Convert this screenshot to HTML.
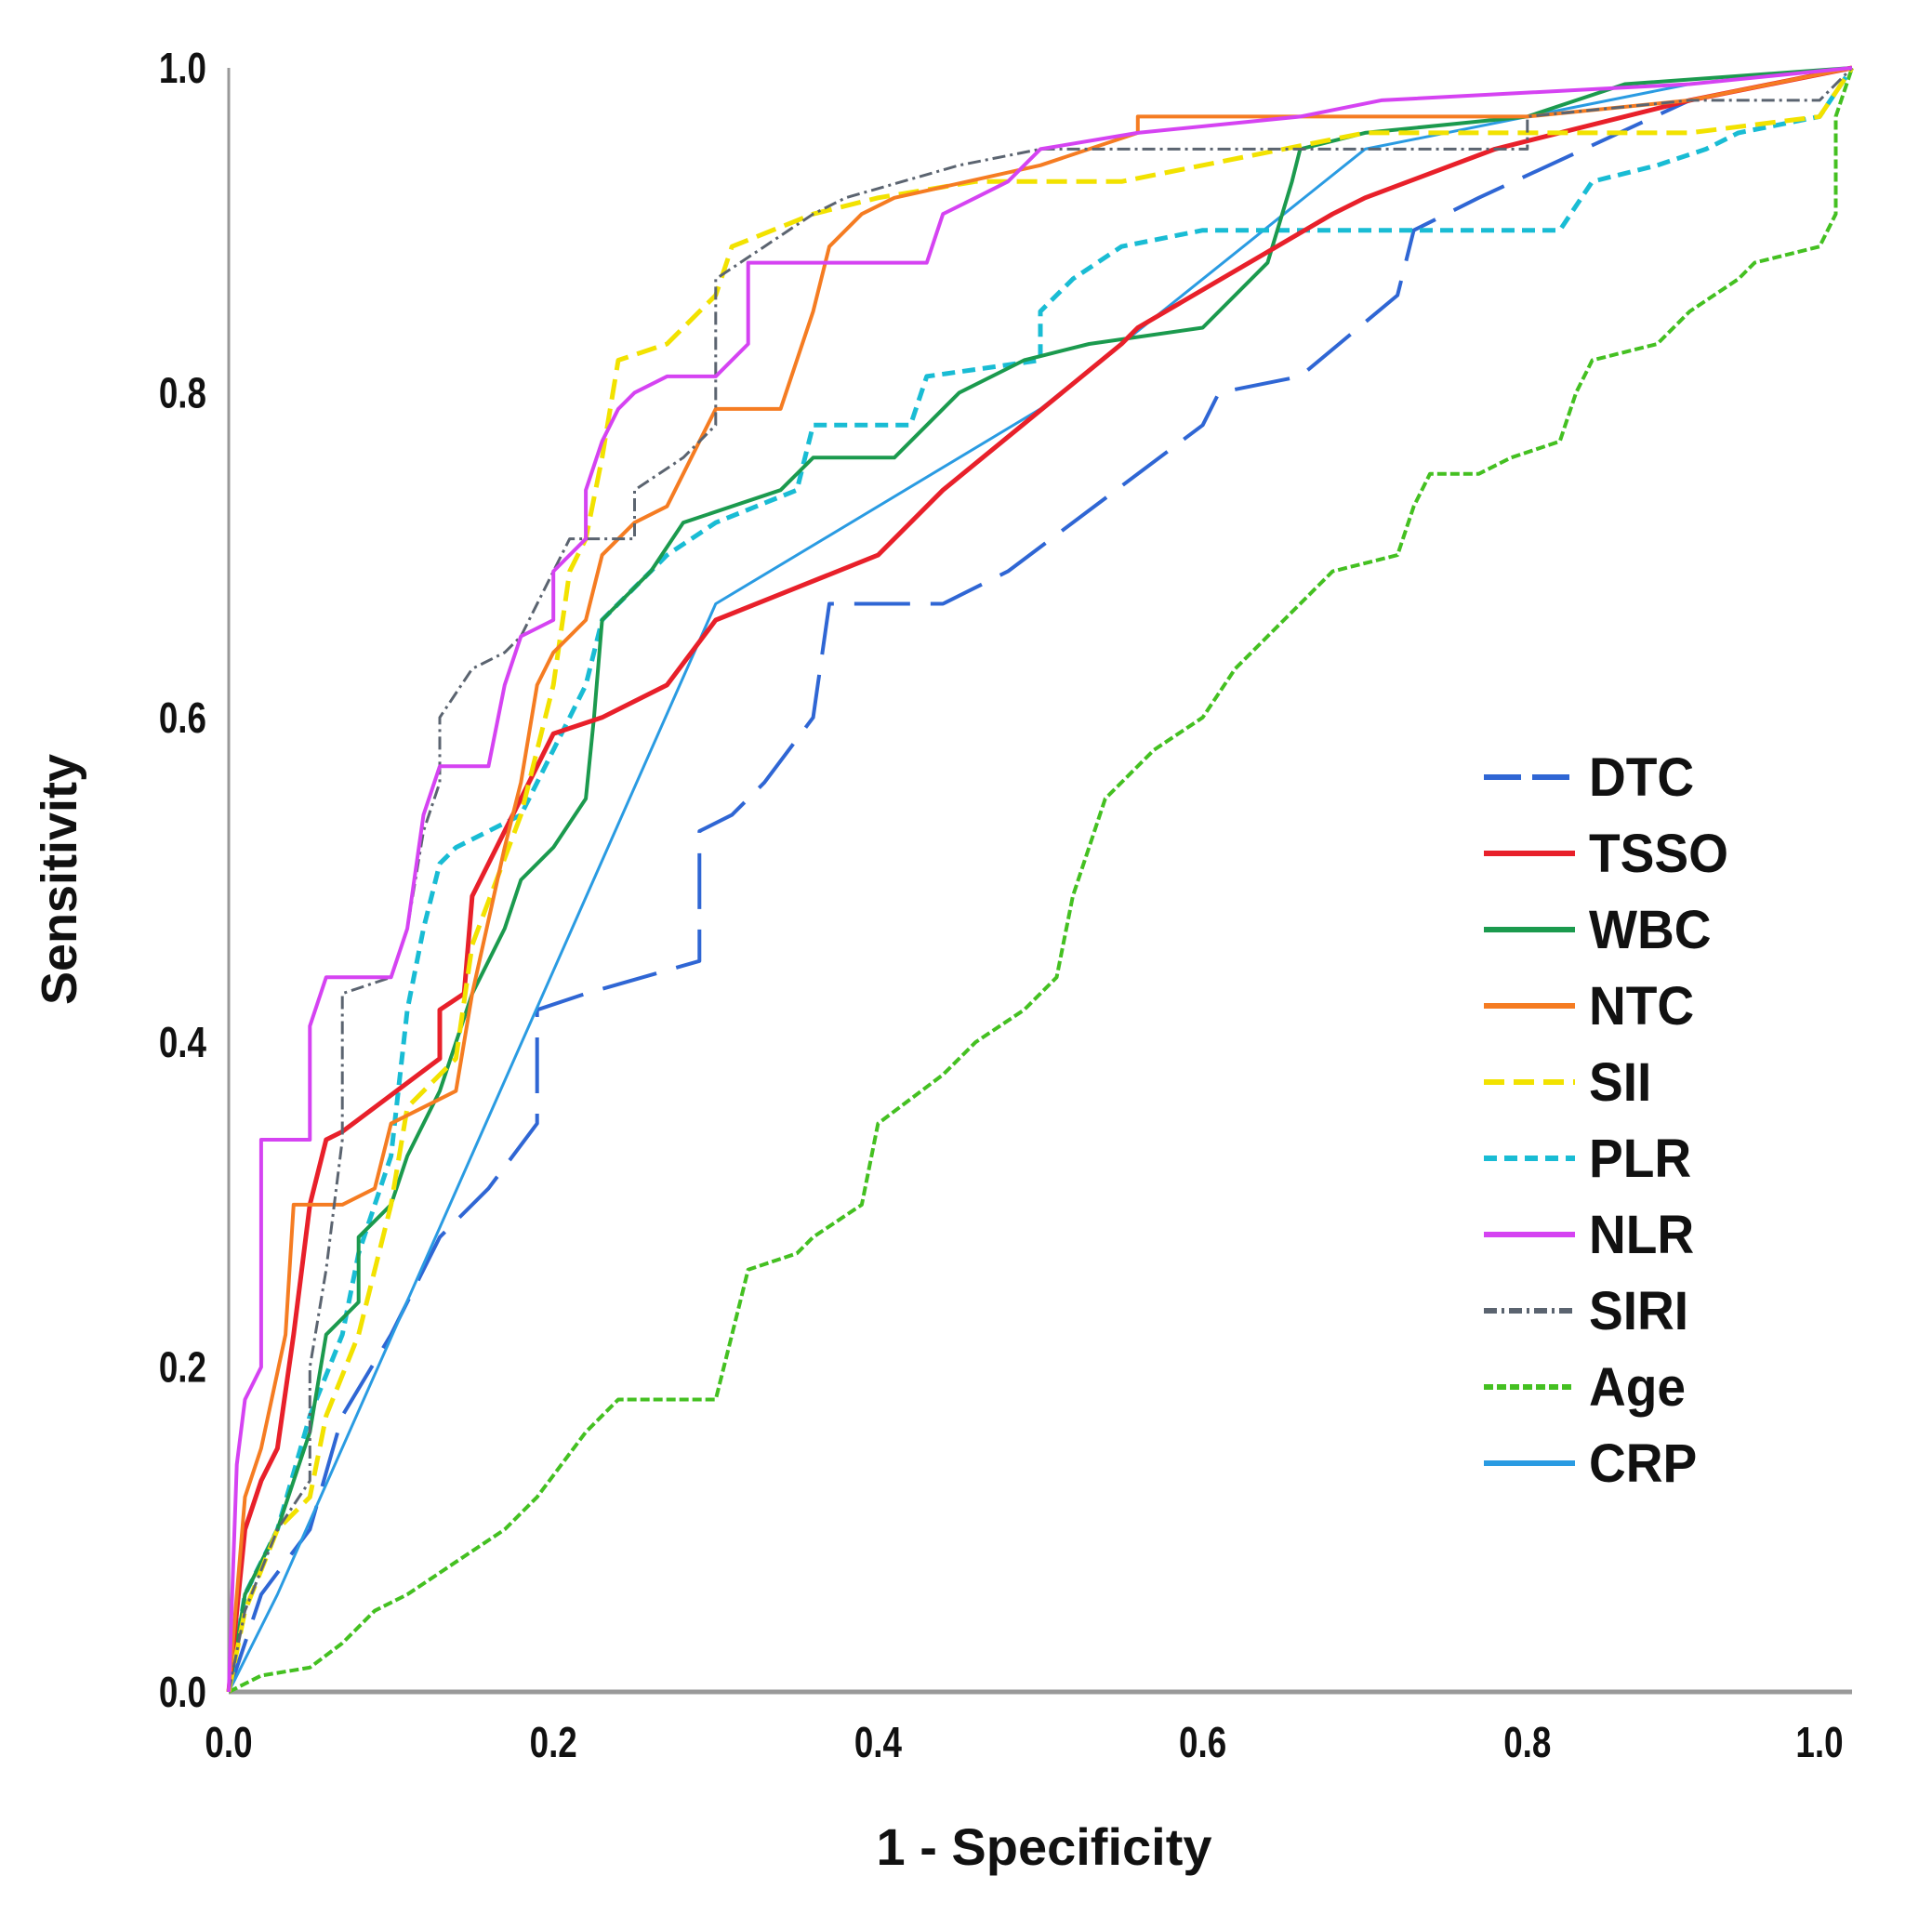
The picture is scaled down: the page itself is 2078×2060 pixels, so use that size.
<!DOCTYPE html>
<html><head><meta charset="utf-8"><style>
html,body{margin:0;padding:0;background:#fff;}
svg{display:block;}
text{font-family:"Liberation Sans",sans-serif;font-weight:bold;fill:#111;}
</style></head><body>
<svg id="chart" width="2078" height="2060" viewBox="0 0 2078 2060">
<g id="axes"></g>
<g id="curves"></g>
<g id="legend"></g>
<text x="82" y="946" transform="rotate(-90 82 946)" text-anchor="middle" font-size="54">Sensitivity</text>
<text x="1123" y="2006" text-anchor="middle" font-size="56">1 - Specificity</text>
</svg>
<script>
const ticks=[0,0.2,0.4,0.6,0.8,1.0];
const tickLabels=["0.0","0.2","0.4","0.6","0.8","1.0"];
const seriesNames=["DTC","TSSO","WBC","NTC","SII","PLR","NLR","SIRI","Age","CRP"];
const DTC=[[0,0],[0.02,0.06],[0.05,0.1],[0.07,0.17],[0.1,0.22],[0.13,0.28],[0.16,0.31],[0.19,0.35],[0.19,0.42],[0.22,0.43],[0.29,0.45],[0.29,0.53],[0.31,0.54],[0.33,0.56],[0.36,0.6],[0.37,0.67],[0.44,0.67],[0.48,0.69],[0.6,0.78],[0.61,0.8],[0.66,0.81],[0.72,0.86],[0.73,0.9],[0.77,0.92],[0.9,0.98],[1,1]];
const TSSO=[[0,0],[0.01,0.1],[0.02,0.13],[0.03,0.15],[0.04,0.22],[0.05,0.3],[0.06,0.34],[0.07,0.345],[0.13,0.39],[0.13,0.42],[0.145,0.43],[0.15,0.49],[0.17,0.53],[0.19,0.57],[0.2,0.59],[0.23,0.6],[0.27,0.62],[0.3,0.66],[0.4,0.7],[0.44,0.74],[0.55,0.83],[0.56,0.84],[0.68,0.91],[0.7,0.92],[0.78,0.95],[0.9,0.98],[1,1]];
const WBC=[[0,0],[0.01,0.06],[0.03,0.1],[0.05,0.16],[0.06,0.22],[0.08,0.24],[0.08,0.28],[0.1,0.3],[0.11,0.33],[0.13,0.37],[0.15,0.43],[0.17,0.47],[0.18,0.5],[0.2,0.52],[0.22,0.55],[0.225,0.6],[0.23,0.66],[0.26,0.69],[0.28,0.72],[0.34,0.74],[0.36,0.76],[0.41,0.76],[0.45,0.8],[0.49,0.82],[0.53,0.83],[0.6,0.84],[0.64,0.88],[0.655,0.93],[0.66,0.95],[0.7,0.96],[0.8,0.97],[0.86,0.99],[1,1]];
const NTC=[[0,0],[0.01,0.12],[0.02,0.15],[0.035,0.22],[0.04,0.3],[0.07,0.3],[0.09,0.31],[0.1,0.35],[0.14,0.37],[0.15,0.43],[0.17,0.52],[0.18,0.56],[0.19,0.62],[0.2,0.64],[0.22,0.66],[0.23,0.7],[0.25,0.72],[0.27,0.73],[0.29,0.77],[0.3,0.79],[0.34,0.79],[0.36,0.85],[0.37,0.89],[0.39,0.91],[0.41,0.92],[0.5,0.94],[0.56,0.96],[0.56,0.97],[0.8,0.97],[0.9,0.98],[1,1]];
const SII=[[0,0],[0.01,0.05],[0.03,0.1],[0.05,0.12],[0.06,0.17],[0.08,0.22],[0.1,0.3],[0.11,0.36],[0.14,0.39],[0.15,0.46],[0.18,0.54],[0.2,0.62],[0.21,0.69],[0.22,0.71],[0.23,0.76],[0.24,0.82],[0.27,0.83],[0.3,0.86],[0.31,0.89],[0.36,0.91],[0.4,0.92],[0.46,0.93],[0.55,0.93],[0.6,0.94],[0.7,0.96],[0.9,0.96],[0.98,0.97],[1,1]];
const PLR=[[0,0],[0.01,0.06],[0.03,0.1],[0.05,0.17],[0.07,0.22],[0.08,0.27],[0.1,0.33],[0.11,0.42],[0.12,0.47],[0.13,0.51],[0.14,0.52],[0.18,0.54],[0.2,0.58],[0.22,0.62],[0.23,0.66],[0.27,0.7],[0.3,0.72],[0.35,0.74],[0.36,0.78],[0.42,0.78],[0.43,0.81],[0.5,0.82],[0.5,0.85],[0.52,0.87],[0.55,0.89],[0.6,0.9],[0.82,0.9],[0.84,0.93],[0.88,0.94],[0.91,0.95],[0.93,0.96],[0.98,0.97],[1,1]];
const NLR=[[0,0],[0.005,0.14],[0.01,0.18],[0.02,0.2],[0.02,0.34],[0.05,0.34],[0.05,0.41],[0.06,0.44],[0.1,0.44],[0.11,0.47],[0.12,0.54],[0.13,0.57],[0.16,0.57],[0.17,0.62],[0.18,0.65],[0.2,0.66],[0.2,0.69],[0.22,0.71],[0.22,0.74],[0.23,0.77],[0.24,0.79],[0.25,0.8],[0.27,0.81],[0.3,0.81],[0.32,0.83],[0.32,0.88],[0.43,0.88],[0.44,0.91],[0.46,0.92],[0.48,0.93],[0.5,0.95],[0.56,0.96],[0.66,0.97],[0.71,0.98],[0.9,0.99],[1,1]];
const SIRI=[[0,0],[0.01,0.05],[0.03,0.1],[0.05,0.13],[0.05,0.2],[0.06,0.26],[0.07,0.34],[0.07,0.43],[0.1,0.44],[0.11,0.47],[0.12,0.53],[0.13,0.56],[0.13,0.6],[0.15,0.63],[0.17,0.64],[0.18,0.65],[0.2,0.69],[0.21,0.71],[0.25,0.71],[0.25,0.74],[0.28,0.76],[0.3,0.78],[0.3,0.87],[0.33,0.89],[0.36,0.91],[0.38,0.92],[0.45,0.94],[0.5,0.95],[0.6,0.95],[0.8,0.95],[0.8,0.97],[0.9,0.98],[0.98,0.98],[1,1]];
const Age=[[0,0],[0.02,0.01],[0.05,0.015],[0.07,0.03],[0.09,0.05],[0.11,0.06],[0.14,0.08],[0.17,0.1],[0.19,0.12],[0.22,0.16],[0.24,0.18],[0.3,0.18],[0.31,0.22],[0.32,0.26],[0.35,0.27],[0.36,0.28],[0.39,0.3],[0.4,0.35],[0.44,0.38],[0.46,0.4],[0.49,0.42],[0.51,0.44],[0.52,0.49],[0.54,0.55],[0.57,0.58],[0.6,0.6],[0.62,0.63],[0.65,0.66],[0.68,0.69],[0.72,0.7],[0.73,0.73],[0.74,0.75],[0.77,0.75],[0.79,0.76],[0.82,0.77],[0.83,0.8],[0.84,0.82],[0.88,0.83],[0.9,0.85],[0.93,0.87],[0.94,0.88],[0.98,0.89],[0.99,0.91],[0.99,0.97],[1,1]];
const CRP=[[0,0],[0.03,0.06],[0.3,0.67],[0.5,0.79],[0.7,0.95],[0.9,0.99],[1,1]];

const X0=246,X1=1992,Y0=1820,Y1=73;
function sx(v){return X0+(X1-X0)*v;}
function sy(v){return Y0-(Y0-Y1)*v;}
const NS="http://www.w3.org/2000/svg";
function mk(tag,attrs,parent){const e=document.createElementNS(NS,tag);for(const k in attrs)e.setAttribute(k,attrs[k]);parent.appendChild(e);return e;}

const axes=document.getElementById('axes');
let l=mk('line',{x1:sx(0),y1:sy(0),x2:sx(1.0),y2:sy(0),stroke:'#999','stroke-width':5},axes);


l=mk('line',{x1:sx(0),y1:sy(0),x2:sx(0),y2:sy(1),stroke:'#999','stroke-width':3},axes);


ticks.forEach((t,i)=>{
  const px=sx(t)-(i===ticks.length-1?35:0);
  let tx=mk('text',{x:px,y:1890,'text-anchor':'middle','font-size':46,transform:`translate(${px} 0) scale(0.8 1) translate(${-px} 0)`},axes);
  tx.textContent=tickLabels[i];
  
  
  let ty=mk('text',{x:222,y:sy(t)+16,'text-anchor':'end','font-size':46,transform:`translate(222 0) scale(0.8 1) translate(-222 0)`},axes);
  ty.textContent=tickLabels[i];
  
  
});

const styles={
 DTC:{data:DTC,color:'#2f66d4',dash:'60 22',w:4},
 TSSO:{data:TSSO,color:'#e8202a',dash:'',w:5},
 WBC:{data:WBC,color:'#1b9a4e',dash:'',w:4},
 NTC:{data:NTC,color:'#f57c22',dash:'',w:4},
 SII:{data:SII,color:'#f2e200',dash:'22 10',w:5},
 PLR:{data:PLR,color:'#19bcd4',dash:'14 8',w:5},
 NLR:{data:NLR,color:'#d543f2',dash:'',w:4},
 SIRI:{data:SIRI,color:'#5b6470',dash:'14 5 3 5',w:3},
 Age:{data:Age,color:'#44c021',dash:'10 4',w:4},
 CRP:{data:CRP,color:'#2a9be2',dash:'',w:3}
};
const drawOrder=["Age","DTC","CRP","PLR","WBC","TSSO","SII","NTC","SIRI","NLR"];
const cg=document.getElementById('curves');
drawOrder.forEach(n=>{
  const s=styles[n];
  const d=s.data.map((p,i)=>(i?'L':'M')+sx(p[0]).toFixed(1)+' '+sy(p[1]).toFixed(1)).join(' ');
  const p=mk('path',{d:d,fill:'none',stroke:s.color,'stroke-width':s.w,'stroke-linejoin':'round'},cg);
  if(s.dash)p.setAttribute('stroke-dasharray',s.dash);
  
  
});
const lg=document.getElementById('legend');
seriesNames.forEach((n,i)=>{
  const s=styles[n];const y=836+82*i;
  const g=mk('g',{},lg);
  
  
  const ln=mk('line',{x1:1596,y1:y,x2:1694,y2:y,stroke:s.color,'stroke-width':6},g);
  if(s.dash)ln.setAttribute('stroke-dasharray',s.dash==='60 22'?'40 12':s.dash);
  const t=mk('text',{x:1709,y:y+20,'font-size':58,'font-weight':'normal',transform:`translate(1709 0) scale(0.95 1) translate(-1709 0)`},g);
  t.textContent=n;
});
</script>
</body></html>
